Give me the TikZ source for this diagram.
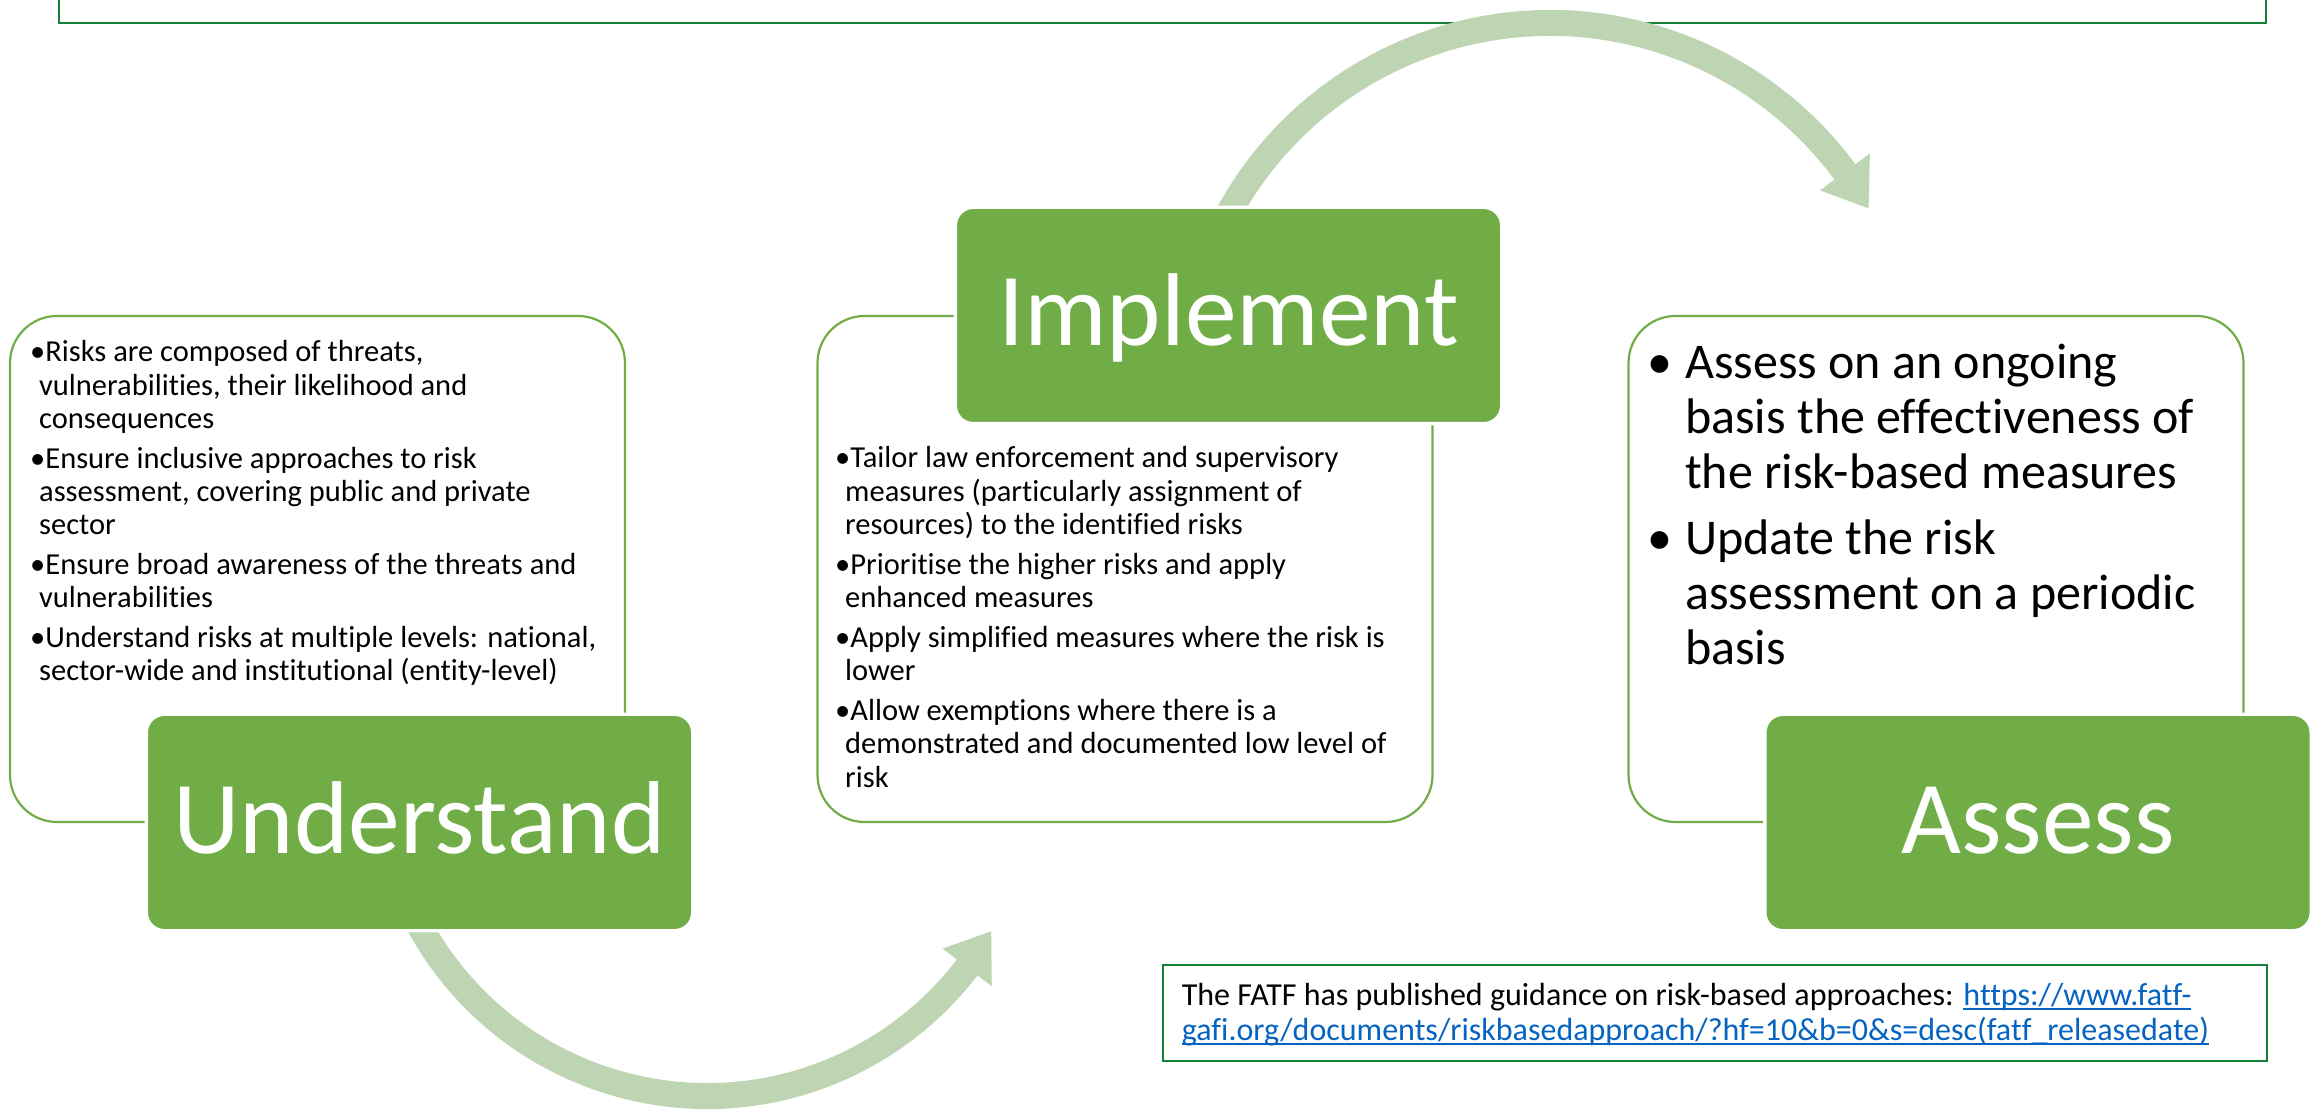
\documentclass[tikz,border=0pt]{standalone}
\usepackage{fontspec}
\setmainfont{Carlito}[Ligatures={NoCommon}]
\usetikzlibrary{calc}
\definecolor{panelgreen}{RGB}{112,173,71}
\definecolor{arrowgreen}{RGB}{189,213,178}
\definecolor{framegreen}{RGB}{20,128,60}
\definecolor{linkblue}{RGB}{5,99,193}
\newsavebox\linkbox
\newcommand\mylink[1]{\sbox\linkbox{\color{linkblue}#1}\rlap{\color{linkblue}\rule[-4.5pt]{\wd\linkbox}{2pt}}\usebox\linkbox}
\tikzset{
  panel/.style={draw=panelgreen, line width=2.2pt, fill=white, rounded corners=47pt,
    minimum width=615pt, minimum height=506pt, inner sep=0pt},
  stage/.style={fill=panelgreen, draw=white, line width=3.3pt, rounded corners=18pt,
    minimum width=546.3pt, minimum height=216.3pt, inner sep=0pt, text=white,
    font=\fontsize{103.5}{110}\selectfont, text height=61pt, text depth=0pt},
  bullets/.style={anchor=base west, align=left, inner sep=0pt, font=\fontsize{30.5}{33.3}\selectfont},
  bigbullets/.style={anchor=base west, align=left, inner sep=0pt, font=\fontsize{50}{55}\selectfont},
  cyclearrow/.style={draw=arrowgreen, line width=26pt},
  arrowhead/.style={fill=arrowgreen},
  frame/.style={draw=framegreen, line width=2.5pt, fill=white, inner sep=0pt},
}
\begin{document}
\begin{tikzpicture}[x=1pt, y=1pt]
\useasboundingbox (0,0) rectangle (2320,1109);
\clip (0,0) rectangle (2320,1109);
% top frame (mostly cut off)
\node[frame, minimum width=2207pt, minimum height=60pt] (topframe) at (1162.5,1116) {};
% cycle arrows
\coordinate (cB) at (707,340.5);
\coordinate (cT) at (1550,719.6);
\draw[cyclearrow] ($(cB)+(205:327.5)$) arc[start angle=205, end angle=323.5, radius=327.5];
\fill[arrowhead] ($(cB)+(322.6:296.5)$) -- ($(cB)+(330.2:327.5)$) -- ($(cB)+(322.6:358.5)$) -- cycle;
\draw[cyclearrow] ($(cT)+(156:366.4)$) arc[start angle=156, end angle=35.5, radius=366.4];
\fill[arrowhead] ($(cT)+(36.4:335.4)$) -- ($(cT)+(29.6:366.4)$) -- ($(cT)+(36.4:397.4)$) -- cycle;
% panels
\node[panel] (undpanel) at (317.5,540) {};
\node[panel] (imppanel) at (1125,540) {};
\node[panel] (asspanel) at (1936,540) {};
% stage boxes
\node[stage] (und) at (419.5,286.5) {Understand};
\node[stage] (imp) at (1228.5,793.5) {Implement};
\node[stage] (ass) at (2038,286.5) {Assess};
% bullet texts (anchored at the baseline of their last line)
\node[bullets] (undtext) at (30,428) {•Risks are composed of threats,\\
\hspace*{9pt}vulnerabilities, their likelihood and\\
\hspace*{9pt}consequences\\[6.5pt]
•Ensure inclusive approaches to risk\\
\hspace*{9pt}assessment, covering public and private\\
\hspace*{9pt}sector\\[6.5pt]
•Ensure broad awareness of the threats and\\
\hspace*{9pt}vulnerabilities\\[6.5pt]
•Understand risks at multiple levels: national,\\
\hspace*{9pt}sector-wide and institutional (entity-level)};
\node[bullets] (imptext) at (835,322) {•Tailor law enforcement and supervisory\\
\hspace*{10pt}measures (particularly assignment of\\
\hspace*{10pt}resources) to the identified risks\\[6.5pt]
•Prioritise the higher risks and apply\\
\hspace*{10pt}enhanced measures\\[6.5pt]
•Apply simplified measures where the risk is\\
\hspace*{10pt}lower\\[6.5pt]
•Allow exemptions where there is a\\
\hspace*{10pt}demonstrated and documented low level of\\
\hspace*{10pt}risk};
\node[bigbullets] (asstext) at (1647,444.5) {\makebox[38pt][l]{•}Assess on an ongoing\\
\hspace*{38pt}basis the effectiveness of\\
\hspace*{38pt}the risk-based measures\\[11pt]
\makebox[38pt][l]{•}Update the risk\\
\hspace*{38pt}assessment on a periodic\\
\hspace*{38pt}basis};
% note box
\node[frame, minimum width=1104pt, minimum height=96pt] (note) at (1715,96) {};
\node[anchor=base west, align=left, inner sep=0pt, font=\fontsize{32}{35}\selectfont] (notetext) at (1181.6,69)
  {The FATF has published guidance on risk-based approaches: \mylink{https://www.fatf-}\\
   \mylink{gafi.org/documents/riskbasedapproach/?hf=10\&b=0\&s=desc(fatf\_releasedate)}};
\end{tikzpicture}
\end{document}
